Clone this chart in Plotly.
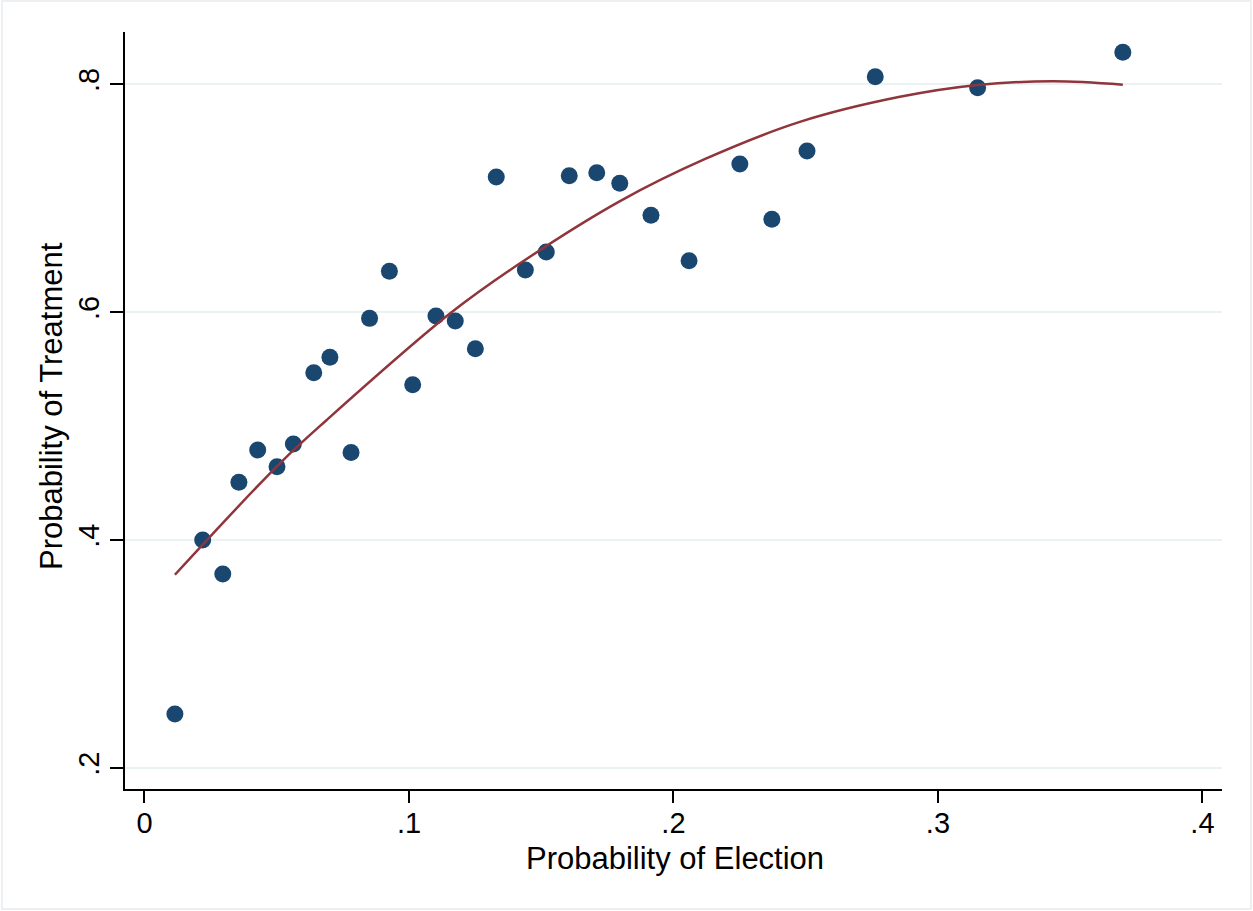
import plotly.graph_objects as go

# Binned scatter data
election = [0.0115, 0.0220, 0.0296, 0.0357, 0.0428, 0.0501, 0.0563, 0.0640, 0.0701, 0.0781,
            0.0851, 0.0926, 0.1014, 0.1102, 0.1175, 0.1251, 0.1330, 0.1440, 0.1519, 0.1606,
            0.1710, 0.1797, 0.1915, 0.2059, 0.2251, 0.2372, 0.2505, 0.2763, 0.3150, 0.3699]
treatment = [0.2474, 0.4001, 0.3703, 0.4507, 0.4791, 0.4644, 0.4843, 0.5469, 0.5604, 0.4769,
             0.5946, 0.6359, 0.5364, 0.5967, 0.5923, 0.5680, 0.7186, 0.6370, 0.6528, 0.7198,
             0.7224, 0.7131, 0.6850, 0.6452, 0.7301, 0.6815, 0.7415, 0.8067, 0.7970, 0.8281]

# Quadratic fit line
fit_x = [0.0115, 0.0512, 0.0689, 0.1156, 0.1420, 0.1798, 0.2120, 0.2478, 0.2856,
         0.3150, 0.3436, 0.3699]
fit_y = [0.3696, 0.4674, 0.5054, 0.5990, 0.6429, 0.6975, 0.7345, 0.7670, 0.7890,
         0.7994, 0.8026, 0.7996]

x_ticks = [0, 0.1, 0.2, 0.3, 0.4]
x_ticktext = ["0", ".1", ".2", ".3", ".4"]
y_ticks = [0.2, 0.4, 0.6, 0.8]
y_ticktext = [".2", ".4", ".6", ".8"]

W, H = 1253, 911
ml, mr, mt, mb = 125, 31, 32, 122
pw, ph = W - ml - mr, H - mt - mb

fig = go.Figure()
fig.add_trace(go.Scatter(x=election, y=treatment, mode="markers",
                         marker=dict(size=17, color="#1a476f"), showlegend=False))
fig.add_trace(go.Scatter(x=fit_x, y=fit_y, mode="lines",
                         line=dict(color="#90353b", width=2.5, shape="spline", smoothing=1.0),
                         showlegend=False))

font = "Liberation Sans, Arial, Helvetica, sans-serif"
fig.update_layout(
    width=W, height=H,
    margin=dict(l=ml, r=mr, t=mt, b=mb),
    paper_bgcolor="white", plot_bgcolor="white",
    font=dict(family=font, size=29, color="black"),
    xaxis=dict(range=[-0.00737, 0.4074], tickvals=x_ticks, ticktext=x_ticktext,
               showgrid=False, zeroline=False, showline=True, linecolor="black", linewidth=1.5,
               ticks="outside", ticklen=12, tickwidth=1.5, tickcolor="black",
               ticklabelstandoff=-5, tickfont=dict(size=29)),
    yaxis=dict(range=[0.1816, 0.8459], tickvals=y_ticks, ticktext=y_ticktext,
               showgrid=True, gridcolor="#eaf2f3", gridwidth=2, zeroline=False,
               showline=True, linecolor="black", linewidth=1.5,
               ticks="outside", ticklen=13, tickwidth=1.5, tickcolor="black",
               tickangle=-90, tickfont=dict(size=29)),
    annotations=[
        dict(text="Probability of Election", xref="paper", yref="paper",
             x=(675 - ml) / pw, y=(mt + ph - 858) / ph, xanchor="center", yanchor="middle",
             showarrow=False, font=dict(size=31, family=font, color="black")),
        dict(text="Probability of Treatment", xref="paper", yref="paper",
             x=(52 - ml) / pw, y=(mt + ph - 406) / ph, xanchor="center", yanchor="middle",
             textangle=-90, showarrow=False, font=dict(size=31, family=font, color="black")),
    ],
    shapes=[dict(type="rect", xref="paper", yref="paper",
                 x0=(2 - ml) / pw, x1=(1251 - ml) / pw,
                 y0=(mt + ph - 909) / ph, y1=(mt + ph - 1) / ph,
                 line=dict(color="#e6ecef", width=1.5), fillcolor="rgba(0,0,0,0)",
                 layer="below")],
)

fig.write_html("out.html")
